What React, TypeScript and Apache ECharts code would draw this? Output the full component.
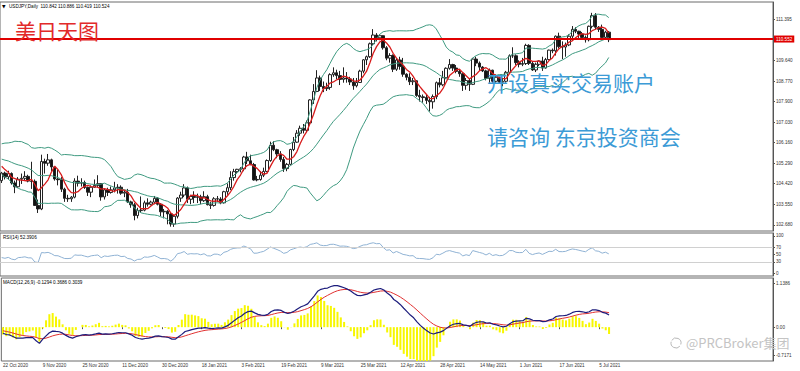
import React, { useEffect, useRef } from "react";
import * as echarts from "echarts";

// ---------------- categories ----------------
const FIRST_DAY = [2020, 9, 22]; // 22 Oct 2020 (UTC y, m0, d)
const MARKET_HOLIDAYS = ["2020-12-25", "2021-01-01"];
const TOTAL_SLOTS = 233; // includes the empty chart-shift area on the right
const MONTHS = ["Jan", "Feb", "Mar", "Apr", "May", "Jun", "Jul", "Aug", "Sep", "Oct", "Nov", "Dec"];

// ---------------- price data (USDJPY daily) ----------------
const opens = [
  104.55, 104.87, 104.71, 104.85, 104.45, 104.29, 104.61, 104.65, 104.73, 104.53,
  104.52, 103.5, 103.35, 105.36, 105.29, 105.43, 105.13, 104.62, 104.59, 104.19,
  103.8, 103.78, 103.85, 104.53, 104.44, 104.47, 104.26, 104.06, 104.27, 104.35,
  104.42, 103.86, 104.16, 104.05, 104.16, 104.24, 104.27, 104.02, 104.06, 103.65,
  103.53, 103.07, 103.28, 103.3, 103.61, 103.55, 103.64, 103.8, 103.55, 103.23,
  103.25, 103.14, 102.71, 103.04, 103.81, 103.94, 104.24, 103.76, 103.88, 103.84,
  103.87, 103.7, 103.87, 103.53, 103.5, 103.78, 103.77, 103.61, 104.08, 104.25,
  104.68, 104.93, 105.03, 105.05, 105.55, 105.39, 105.23, 104.58, 104.6, 104.78,
  104.94, 105.4, 106.05, 105.86, 105.68, 105.45, 105.06, 105.24, 105.87, 106.18,
  106.56, 106.77, 106.68, 107.0, 107.97, 108.33, 108.9, 108.54, 108.45, 108.5,
  109.04, 109.12, 109.0, 108.84, 108.9, 108.86, 108.73, 108.57, 108.71, 109.19,
  109.67, 109.8, 110.35, 110.72, 110.6, 110.69, 110.18, 109.74, 109.85, 109.27,
  109.66, 109.39, 109.06, 108.93, 108.74, 108.78, 108.16, 108.1, 108.07, 107.95,
  107.89, 108.11, 108.7, 108.61, 108.91, 109.31, 109.47, 109.32, 109.18, 109.08,
  108.59, 108.79, 108.63, 109.7, 109.53, 109.36, 109.2, 108.88, 109.23, 108.76,
  108.93, 108.72, 108.76, 109.14, 109.84, 109.84, 109.55, 109.48, 109.51, 110.28,
  109.52, 109.24, 109.48, 109.62, 109.32, 109.68, 110.08, 110.05, 110.67, 110.23,
  110.21, 110.3, 110.67, 110.96, 110.88, 110.76, 110.62, 110.52, 111.09, 111.54,
  111.05, 110.96, 110.62, 110.842,
];
const highs = [
  104.92, 104.93, 104.97, 104.9, 104.55, 104.7, 104.85, 104.95, 104.8, 105.35,
  104.6, 103.75, 105.65, 105.48, 105.68, 105.48, 105.15, 105.0, 104.7, 104.25,
  103.95, 103.9, 104.65, 104.76, 104.65, 104.55, 104.3, 104.35, 104.6, 104.78,
  104.45, 104.2, 104.25, 104.3, 104.5, 104.4, 104.35, 104.15, 104.2, 103.7,
  103.6, 103.4, 103.88, 103.7, 103.8, 103.7, 103.9, 103.85, 103.6, 103.35,
  103.3, 103.2, 103.1, 103.85, 104.08, 104.4, 104.3, 103.95, 104.1, 104.0,
  103.95, 104.1, 103.95, 103.65, 103.85, 103.9, 103.85, 104.12, 104.43, 104.95,
  105.05, 105.05, 105.12, 105.6, 105.77, 105.65, 105.3, 104.75, 104.95, 105.1,
  105.45, 106.2, 106.22, 105.9, 105.8, 105.55, 105.3, 105.9, 106.4, 106.69,
  106.88, 106.95, 107.1, 108.0, 108.64, 109.23, 109.0, 108.75, 108.7, 109.1,
  109.35, 109.25, 109.2, 109.35, 109.15, 108.95, 108.9, 108.9, 109.25, 109.7,
  109.85, 110.4, 110.97, 110.8, 110.75, 110.7, 110.25, 109.95, 109.9, 109.75,
  109.8, 109.75, 109.1, 109.1, 108.9, 108.8, 108.4, 108.2, 108.2, 108.1,
  108.2, 108.75, 108.9, 109.2, 109.35, 109.7, 109.5, 109.45, 109.25, 109.1,
  108.9, 108.9, 109.75, 109.8, 109.6, 109.4, 109.25, 109.3, 109.25, 109.05,
  108.95, 108.9, 109.2, 109.9, 110.2, 109.9, 109.65, 109.75, 110.35, 110.33,
  109.6, 109.55, 109.65, 109.8, 109.75, 110.1, 110.15, 110.7, 110.82, 110.45,
  110.4, 110.75, 111.1, 111.05, 110.9, 110.85, 110.7, 111.12, 111.66, 111.65,
  111.1, 111.16, 110.9, 110.886,
];
const lows = [
  104.45, 104.6, 104.6, 104.38, 104.02, 104.24, 104.41, 104.55, 104.48, 104.2,
  103.48, 103.18, 103.3, 104.85, 105.18, 104.95, 104.55, 104.35, 104.07, 103.65,
  103.65, 103.65, 103.8, 104.3, 104.3, 104.2, 103.9, 103.85, 104.25, 104.25,
  103.7, 103.75, 103.9, 104.0, 104.05, 104.0, 103.95, 103.85, 103.6, 103.4,
  102.87, 102.95, 103.2, 103.25, 103.45, 103.5, 103.55, 103.5, 103.05, 102.95,
  102.7, 102.6, 102.59, 102.95, 103.65, 103.85, 103.6, 103.55, 103.6, 103.6,
  103.55, 103.65, 103.5, 103.35, 103.45, 103.65, 103.55, 103.58, 103.95, 104.15,
  104.55, 104.85, 104.9, 104.95, 105.25, 105.2, 104.55, 104.52, 104.55, 104.7,
  104.9, 105.35, 105.8, 105.5, 105.35, 104.92, 104.95, 105.2, 105.8, 106.15,
  106.45, 106.55, 106.6, 106.95, 107.8, 108.3, 108.35, 108.3, 108.35, 108.4,
  108.95, 108.85, 108.6, 108.7, 108.7, 108.6, 108.4, 108.5, 108.7, 109.1,
  109.45, 109.75, 110.3, 110.45, 110.5, 110.1, 109.65, 109.55, 109.15, 109.2,
  109.25, 108.95, 108.8, 108.6, 108.6, 108.1, 107.9, 107.85, 107.8, 107.48,
  107.6, 108.0, 108.5, 108.55, 108.85, 109.25, 109.2, 109.1, 108.95, 108.35,
  108.4, 108.35, 108.6, 109.4, 109.2, 109.15, 108.8, 108.7, 108.7, 108.7,
  108.65, 108.55, 108.7, 109.1, 109.75, 109.45, 109.35, 109.4, 109.45, 109.45,
  109.2, 109.15, 109.4, 109.2, 109.3, 109.65, 109.95, 109.85, 110.15, 109.7,
  109.8, 110.25, 110.55, 110.8, 110.6, 110.55, 110.4, 110.45, 111.0, 110.95,
  110.85, 110.58, 110.55, 110.419,
];
const closes = [
  104.87, 104.71, 104.85, 104.45, 104.29, 104.61, 104.65, 104.73, 104.53, 104.52,
  103.5, 103.35, 105.36, 105.29, 105.43, 105.13, 104.62, 104.59, 104.19, 103.8,
  103.78, 103.85, 104.53, 104.44, 104.47, 104.26, 104.06, 104.27, 104.35, 104.42,
  103.86, 104.16, 104.05, 104.16, 104.24, 104.27, 104.02, 104.06, 103.65, 103.53,
  103.07, 103.28, 103.3, 103.61, 103.55, 103.64, 103.8, 103.55, 103.23, 103.25,
  103.14, 102.71, 103.04, 103.81, 103.94, 104.24, 103.76, 103.88, 103.84, 103.87,
  103.7, 103.87, 103.53, 103.5, 103.78, 103.77, 103.61, 104.08, 104.25, 104.68,
  104.93, 105.03, 105.05, 105.55, 105.39, 105.23, 104.58, 104.6, 104.78, 104.94,
  105.4, 106.05, 105.86, 105.68, 105.45, 105.06, 105.24, 105.87, 106.18, 106.56,
  106.77, 106.68, 107.0, 107.97, 108.33, 108.9, 108.54, 108.45, 108.5, 109.04,
  109.12, 109.0, 108.84, 108.9, 108.86, 108.73, 108.57, 108.71, 109.19, 109.67,
  109.8, 110.35, 110.72, 110.6, 110.69, 110.18, 109.74, 109.85, 109.27, 109.66,
  109.39, 109.06, 108.93, 108.74, 108.78, 108.16, 108.1, 108.07, 107.95, 107.89,
  108.11, 108.7, 108.61, 108.91, 109.31, 109.47, 109.32, 109.18, 109.08, 108.59,
  108.79, 108.63, 109.7, 109.53, 109.36, 109.2, 108.88, 109.23, 108.76, 108.93,
  108.72, 108.76, 109.14, 109.84, 109.84, 109.55, 109.48, 109.51, 110.28, 109.52,
  109.24, 109.48, 109.62, 109.32, 109.68, 110.08, 110.05, 110.67, 110.23, 110.21,
  110.3, 110.67, 110.96, 110.88, 110.76, 110.62, 110.52, 111.09, 111.54, 111.05,
  110.96, 110.62, 110.84, 110.524,
];
// closes before the first visible bar (indicator warm-up, off-screen)
const warmupCloses = [
  106.1, 106.55, 105.37, 105.9, 105.95, 106.17, 106.17, 106.24, 106.27, 106.03,
  106.19, 106.15, 106.16, 105.71, 105.42, 104.94, 104.73, 104.57, 104.66, 104.93,
  105.41, 105.39, 105.59, 105.5, 105.69, 105.48, 105.53, 105.32, 105.73, 105.67,
  105.97, 106.0, 105.62, 105.32, 105.47, 105.13, 105.43, 105.4, 105.44, 105.52,
  104.55,
];

// ---------------- axis tick labels ----------------
const priceTicks = [102.68, 103.55, 104.42, 105.29, 106.16, 107.03, 107.9, 108.77, 109.64, 111.395];
const currentPrice = 110.552;
const rsiTicks = [0, 30, 50, 70, 100];
const rsiLevels = [70, 30];
const macdTicks = [-0.7171, 0, 1.1386];
const macdTickLabels = ["-0.7171", "0.00", "1.1386"];

const headerText = "USDJPY,Daily  110.842 110.886 110.419 110.524";
const rsiText = "RSI(14) 52.3906";
const macdText = "MACD(12,26,9) -0.1294 0.3686 0.3039";

// indicator parameters
const BB_PERIOD = 20;
const BB_DEV = 2;
const MA_PERIOD = 5;
const RSI_PERIOD = 14;
const MACD_FAST = 12;
const MACD_SLOW = 26;
const MACD_SIGNAL = 9;
const HIST_MULT = 3;

function buildDates(n: number): string[] {
  const out: string[] = [];
  const d = new Date(Date.UTC(FIRST_DAY[0], FIRST_DAY[1], FIRST_DAY[2]));
  while (out.length < n) {
    const wd = d.getUTCDay();
    const iso = d.toISOString().slice(0, 10);
    if (wd !== 0 && wd !== 6 && !MARKET_HOLIDAYS.includes(iso)) {
      out.push(`${d.getUTCDate()} ${MONTHS[d.getUTCMonth()]} ${d.getUTCFullYear()}`);
    }
    d.setUTCDate(d.getUTCDate() + 1);
  }
  return out;
}

const r4 = (v: number) => Math.round(v * 10000) / 10000;

function computeIndicators() {
  const W = warmupCloses.length;
  const all = warmupCloses.concat(closes);
  const win = (i: number, n: number) => all.slice(W + i - n + 1, W + i + 1);
  const mean = (a: number[]) => a.reduce((s, v) => s + v, 0) / a.length;

  const ma = closes.map((_, i) => r4(mean(win(i, MA_PERIOD))));
  const bbU: number[] = [];
  const bbM: number[] = [];
  const bbL: number[] = [];
  closes.forEach((_, i) => {
    const w = win(i, BB_PERIOD);
    const m = mean(w);
    const sd = Math.sqrt(w.reduce((s, v) => s + (v - m) * (v - m), 0) / w.length);
    bbU.push(r4(m + BB_DEV * sd));
    bbM.push(r4(m));
    bbL.push(r4(m - BB_DEV * sd));
  });

  const ema = (arr: number[], n: number) => {
    const k = 2 / (n + 1);
    const out = [arr[0]];
    for (let i = 1; i < arr.length; i++) out.push(arr[i] * k + out[i - 1] * (1 - k));
    return out;
  };
  const ef = ema(all, MACD_FAST);
  const es = ema(all, MACD_SLOW);
  const macdAll = all.map((_, i) => ef[i] - es[i]);
  const sigAll = ema(macdAll, MACD_SIGNAL);
  const macd = macdAll.slice(W).map(r4);
  const sig = sigAll.slice(W).map(r4);
  const hist = macdAll.slice(W).map((v, i) => r4((v - sigAll[W + i]) * HIST_MULT));

  const rsiAll: number[] = new Array(all.length).fill(NaN);
  let ag = 0;
  let al = 0;
  for (let i = 1; i <= RSI_PERIOD; i++) {
    const d = all[i] - all[i - 1];
    if (d > 0) ag += d;
    else al -= d;
  }
  ag /= RSI_PERIOD;
  al /= RSI_PERIOD;
  rsiAll[RSI_PERIOD] = al === 0 ? 100 : 100 - 100 / (1 + ag / al);
  for (let i = RSI_PERIOD + 1; i < all.length; i++) {
    const d = all[i] - all[i - 1];
    ag = (ag * (RSI_PERIOD - 1) + Math.max(d, 0)) / RSI_PERIOD;
    al = (al * (RSI_PERIOD - 1) + Math.max(-d, 0)) / RSI_PERIOD;
    rsiAll[i] = al === 0 ? 100 : 100 - 100 / (1 + ag / al);
  }
  const rsi = rsiAll.slice(W).map((v) => Math.round(v * 100) / 100);
  return { ma, bbU, bbM, bbL, macd, sig, hist, rsi };
}

export default function App() {
  const ref = useRef<HTMLDivElement>(null);

  useEffect(() => {
    if (!ref.current) return;
    const chart = echarts.init(ref.current, undefined, { renderer: "svg" });
    const n = closes.length;
    const dates = buildDates(n);
    const slots = dates.concat(new Array(TOTAL_SLOTS - n).fill(""));
    const ind = computeIndicators();
    const candles = closes.map((c, i) => [opens[i], c, lows[i], highs[i]]);

    const FONT = "Liberation Sans, Arial, sans-serif";
    const CJK = "Noto Sans CJK SC, sans-serif";
    const labelInterval = (idx: number) => idx % 12 === 0 && idx < n;
    const gridCommon = { left: -1, right: 27, show: true, borderColor: "#6a6a6a", borderWidth: 1, backgroundColor: "#ffffff" };
    const yCommon = {
      type: "value",
      position: "right",
      scale: true,
      splitLine: { show: false },
      axisLine: { show: true, lineStyle: { color: "#555", width: 1 } },
      axisTick: { show: true, length: 2, lineStyle: { color: "#555" } },
      axisLabel: { fontSize: 4.6, color: "#333", margin: 3, fontFamily: FONT },
    };
    const xCommon = {
      type: "category",
      data: slots,
      boundaryGap: true,
      axisLine: { show: false },
      axisTick: { show: false },
      axisLabel: { show: false },
      splitLine: { show: false },
    };
    const lineBase = { type: "line", showSymbol: false, symbol: "none", silent: true, animation: false };

    const option: any = {
      animation: false,
      backgroundColor: "#ffffff",
      grid: [
        { ...gridCommon, top: 2, height: 229 },
        { ...gridCommon, top: 233, height: 43 },
        { ...gridCommon, top: 278, height: 83 },
      ],
      xAxis: [
        { ...xCommon, gridIndex: 0 },
        { ...xCommon, gridIndex: 1 },
        {
          ...xCommon,
          gridIndex: 2,
          axisTick: { show: true, interval: labelInterval, alignWithLabel: true, length: 2, lineStyle: { color: "#555" } },
          axisLabel: {
            show: true,
            interval: labelInterval,
            align: "left",
            fontSize: 4.6,
            color: "#333",
            margin: 2,
            fontFamily: FONT,
          },
        },
      ],
      yAxis: [
        {
          ...yCommon,
          gridIndex: 0,
          min: 102.416,
          max: 112.119,
          axisTick: { ...yCommon.axisTick, customValues: priceTicks },
          axisLabel: { ...yCommon.axisLabel, customValues: priceTicks, formatter: (v: number) => v.toFixed(3) },
        },
        {
          ...yCommon,
          gridIndex: 1,
          min: -8.1,
          max: 108.1,
          axisTick: { ...yCommon.axisTick, customValues: rsiTicks },
          axisLabel: { ...yCommon.axisLabel, customValues: rsiTicks, formatter: (v: number) => String(v) },
        },
        {
          ...yCommon,
          gridIndex: 2,
          min: -0.8717,
          max: 1.2675,
          axisTick: { ...yCommon.axisTick, customValues: macdTicks },
          axisLabel: {
            ...yCommon.axisLabel,
            customValues: macdTicks,
            formatter: (v: number) => {
              const k = macdTicks.findIndex((t) => Math.abs(t - v) < 1e-6);
              return k >= 0 ? macdTickLabels[k] : "";
            },
          },
        },
      ],
      series: [
        {
          type: "candlestick",
          xAxisIndex: 0,
          yAxisIndex: 0,
          data: candles,
          barWidth: 3,
          z: 2,
          itemStyle: { color: "#ffffff", color0: "#111111", borderColor: "#222222", borderColor0: "#222222", borderWidth: 1 },
          markLine: {
            silent: true,
            symbol: ["none", "none"],
            data: [{ yAxis: currentPrice }],
            lineStyle: { color: "#e00000", width: 2, type: "solid" },
            label: {
              show: true,
              position: "end",
              formatter: currentPrice.toFixed(3),
              color: "#ffffff",
              backgroundColor: "#e00000",
              fontSize: 4.6,
              fontFamily: FONT,
              padding: [1, 2],
              distance: 1,
            },
            z: 5,
          },
        },
        { ...lineBase, xAxisIndex: 0, yAxisIndex: 0, data: ind.bbU, z: 3, lineStyle: { color: "#3f9a80", width: 1 } },
        { ...lineBase, xAxisIndex: 0, yAxisIndex: 0, data: ind.bbM, z: 3, lineStyle: { color: "#3f9a80", width: 1 } },
        { ...lineBase, xAxisIndex: 0, yAxisIndex: 0, data: ind.bbL, z: 3, lineStyle: { color: "#3f9a80", width: 1 } },
        { ...lineBase, xAxisIndex: 0, yAxisIndex: 0, data: ind.ma, z: 4, lineStyle: { color: "#d81c1c", width: 1.3 } },
        {
          ...lineBase,
          xAxisIndex: 1,
          yAxisIndex: 1,
          data: ind.rsi,
          lineStyle: { color: "#8fb2d4", width: 1 },
          markLine: {
            silent: true,
            symbol: ["none", "none"],
            label: { show: false },
            lineStyle: { color: "#d0d0d0", width: 1, type: "solid" },
            data: rsiLevels.map((v) => ({ yAxis: v })),
          },
        },
        {
          type: "bar",
          xAxisIndex: 2,
          yAxisIndex: 2,
          data: ind.hist,
          barWidth: 2,
          silent: true,
          itemStyle: { color: "#f7f700" },
        },
        { ...lineBase, xAxisIndex: 2, yAxisIndex: 2, data: ind.macd, z: 4, lineStyle: { color: "#1c1c7c", width: 1.2 } },
        { ...lineBase, xAxisIndex: 2, yAxisIndex: 2, data: ind.sig, z: 3, lineStyle: { color: "#e03030", width: 1 } },
      ],
      graphic: [
        { type: "text", x: 2, y: 4, z: 10, style: { text: "▼", fontSize: 4.6, fill: "#000", fontFamily: "DejaVu Sans" } },
        { type: "text", x: 9, y: 4, z: 10, style: { text: headerText, fontSize: 4.6, fill: "#000", fontFamily: FONT } },
        { type: "text", x: 3, y: 235, z: 10, style: { text: rsiText, fontSize: 4.6, fill: "#000", fontFamily: FONT } },
        { type: "text", x: 3, y: 280, z: 10, style: { text: macdText, fontSize: 4.6, fill: "#000", fontFamily: FONT } },
        { type: "text", x: 15, y: 19, z: 10, style: { text: "美日天图", fontSize: 21, fill: "#e22a2a", fontFamily: CJK } },
        { type: "text", x: 487, y: 71, z: 10, style: { text: "开设真实交易账户", fontSize: 21, fill: "#3c9bd6", fontFamily: CJK } },
        { type: "text", x: 487, y: 125, z: 10, style: { text: "请咨询 东京投资商会", fontSize: 21, fill: "#3c9bd6", fontFamily: CJK } },
        {
          type: "arc",
          z: 10,
          shape: { cx: 676, cy: 343, r: 5, startAngle: -2.6, endAngle: 0.3 },
          style: { stroke: "#b8b8b8", fill: "none", lineWidth: 1 },
        },
        {
          type: "arc",
          z: 10,
          shape: { cx: 676, cy: 343, r: 5, startAngle: 0.7, endAngle: 3.4 },
          style: { stroke: "#b8b8b8", fill: "none", lineWidth: 1 },
        },
        { type: "text", x: 686, y: 336, z: 10, style: { text: "@PRCBroker集团", fontSize: 13, fill: "#c4c4c4", fontFamily: "Noto Sans CJK SC, sans-serif" } },
      ],
    };

    chart.setOption(option);
    return () => chart.dispose();
  }, []);

  return (
    <div
      ref={ref}
      style={{ position: "fixed", left: 0, top: 0, width: 800, height: 371, background: "#fff" }}
    />
  );
}
